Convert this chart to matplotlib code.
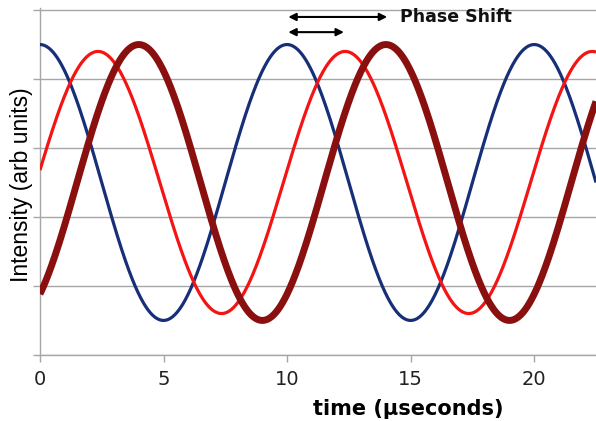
import numpy as np
import matplotlib.pyplot as plt

plt.rcParams["font.family"] = ["DejaVu Sans"]

# wave parameters (time in microseconds, intensity in arbitrary units)
PERIOD = 10.0
OFFSET = 2.5
series_names = ["reference", "shifted", "shifted more"]
phase_shifts = [0.0, 2.35, 4.0]
amplitudes = [2.0, 1.9, 2.0]
colors = ["#172f78", "#f41414", "#8a1010"]
widths = [2.3, 2.3, 5.0]

x_ticks = [0, 5, 10, 15, 20]
y_grid = [0, 1, 2, 3, 4, 5]

X_MAX = 22.5
t = np.linspace(0, X_MAX, 800)

fig = plt.figure(figsize=(5.96, 4.21), dpi=100)
ax = fig.add_axes([0.067, 0.157, 0.933, 0.824])

for shift, amp, col, lw in zip(phase_shifts, amplitudes, colors, widths):
    y = OFFSET + amp * np.cos(2 * np.pi * (t - shift) / PERIOD)
    ax.plot(t, y, color=col, lw=lw, solid_capstyle="butt", zorder=3)

ax.set_xlim(0, X_MAX)
ax.set_ylim(0, 5.03)
ax.set_xticks(x_ticks)
ax.set_yticks(y_grid)
ax.set_yticklabels([])
ax.yaxis.grid(True, color="#a6a6a6", lw=1.0)
ax.set_axisbelow(True)

for s in ["top", "right"]:
    ax.spines[s].set_visible(False)
for s in ["left", "bottom"]:
    ax.spines[s].set_color("#a6a6a6")
    ax.spines[s].set_linewidth(1.0)
ax.tick_params(axis="both", colors="#a6a6a6", length=5, width=1.0)
ax.tick_params(axis="x", labelcolor="#222222", labelsize=14, pad=6)

ax.set_xlabel("time (\u00b5seconds)", fontsize=15, fontweight="bold")
ax.xaxis.set_label_coords(0.662, -0.128)
ax.xaxis.label.set_va("top")
ax.set_ylabel("Intensity (arb units)", fontsize=16.5, family="Liberation Sans")
ax.yaxis.set_label_coords(-0.012, 0.49)

# phase-shift arrows, starting at the blue peak near t = 10
start = PERIOD + 0.05
arrow_kw = dict(arrowstyle="<|-|>", color="black", lw=1.5, mutation_scale=11,
                shrinkA=0, shrinkB=0)
ax.annotate("", xy=(start + phase_shifts[2], 4.90), xytext=(start, 4.90),
            arrowprops=arrow_kw, annotation_clip=False)
ax.annotate("", xy=(start + phase_shifts[1] - 0.1, 4.68), xytext=(start, 4.68),
            arrowprops=arrow_kw, annotation_clip=False)
ax.text(start + phase_shifts[2] + 0.5, 4.90, "Phase Shift", fontsize=12.5,
        fontweight="bold", va="center", ha="left", color="#111111")

fig.savefig("out.png", dpi=100)
